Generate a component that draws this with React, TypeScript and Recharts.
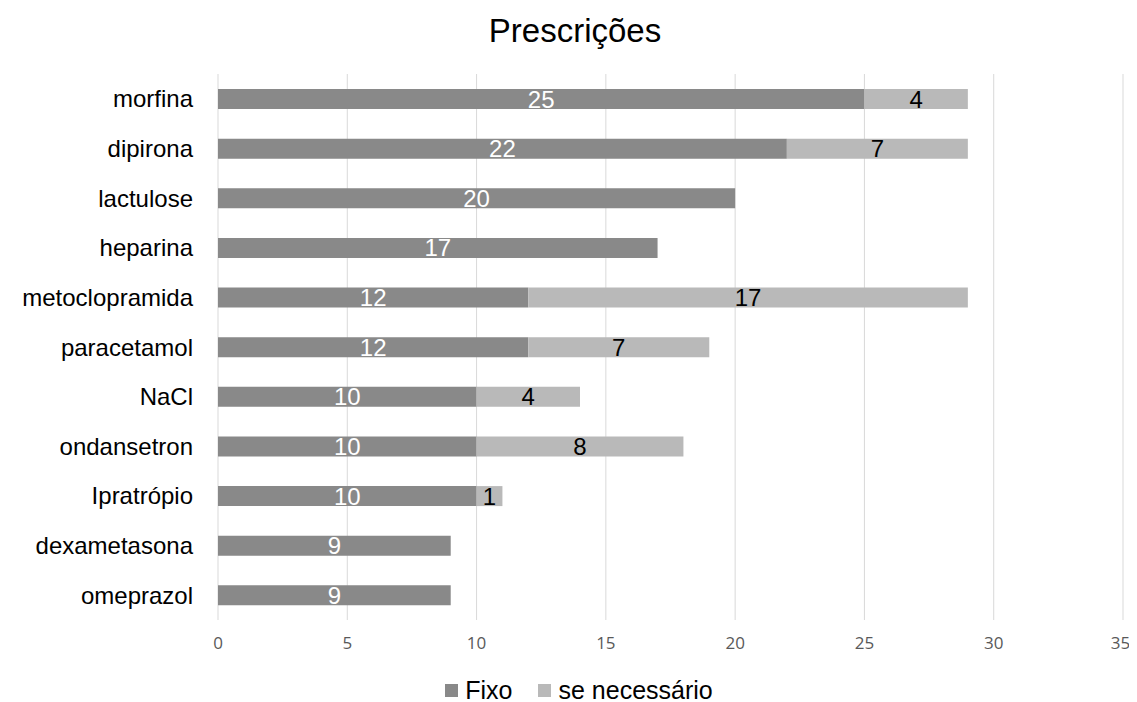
import React from 'react'
import { BarChart, Bar, XAxis, YAxis, CartesianGrid, Legend, LabelList } from 'recharts'

const medicamentos = [
  'morfina', 'dipirona', 'lactulose', 'heparina', 'metoclopramida', 'paracetamol',
  'NaCl', 'ondansetron', 'Ipratrópio ', 'dexametasona', 'omeprazol',
]
const fixo = [25, 22, 20, 17, 12, 12, 10, 10, 10, 9, 9]
const seNecessario: (number | null)[] = [4, 7, null, null, 17, 7, 4, 8, 1, null, null]
const xTicks = [0, 5, 10, 15, 20, 25, 30, 35]

const data = medicamentos.map((nome, i) => ({
  nome,
  fixo: fixo[i],
  se: seNecessario[i],
}))

const FONT = '"Liberation Sans", Arial, sans-serif'
const COR_FIXO = '#898989'
const COR_SE = '#b9b9b9'

const W = 1121
const H = 694

function Legenda() {
  const item = (cor: string, texto: string, gap: number) => (
    <div style={{ display: 'flex', alignItems: 'center', marginRight: gap }}>
      <span style={{ width: 13, height: 13, background: cor, marginRight: 7 }} />
      <span>{texto}</span>
    </div>
  )
  return (
    <div
      style={{
        width: 1142, display: 'flex', justifyContent: 'center',
        fontSize: 25, fontFamily: FONT, color: '#000', lineHeight: '28px',
      }}
    >
      {item(COR_FIXO, 'Fixo', 26)}
      {item(COR_SE, 'se necessário', 0)}
    </div>
  )
}

export default function App() {
  return (
    <div style={{ position: 'relative', width: W, height: H, fontFamily: FONT }}>
      <BarChart
        width={W}
        height={H}
        data={data}
        layout="vertical"
        margin={{ top: 66, right: 6, left: 0, bottom: 52 }}
        barSize={20}
      >
        <CartesianGrid horizontal={false} stroke="#d9d9d9" />
        <XAxis
          type="number"
          domain={[0, 35]}
          ticks={xTicks}
          axisLine={false}
          tickLine={false}
          tickMargin={11}
          tick={{ fontSize: 17, fill: '#595959', fontFamily: '"Open Sans", sans-serif' }}
        />
        <YAxis
          type="category"
          dataKey="nome"
          width={210}
          axisLine={false}
          tickLine={false}
          tickSize={0}
          tickMargin={25}
          tick={{ fontSize: 24, fill: '#000', fontFamily: FONT }}
        />
        <Legend
          verticalAlign="middle"
          content={() => <Legenda />}
          wrapperStyle={{ top: 668, left: 0, width: 1142 }}
        />
        <Bar dataKey="fixo" name="Fixo" stackId="a" fill={COR_FIXO} isAnimationActive={false}>
          <LabelList dataKey="fixo" position="center" fill="#fff" fontSize={24} />
        </Bar>
        <Bar dataKey="se" name="se necessário" stackId="a" fill={COR_SE} isAnimationActive={false}>
          <LabelList
            dataKey="se"
            position="center"
            fill="#000"
            fontSize={24}
            formatter={(v: any) => (v == null ? '' : v)}
          />
        </Bar>
      </BarChart>
      <svg
        width={W}
        height={60}
        style={{ position: 'absolute', top: 0, left: 0, pointerEvents: 'none' }}
      >
        <text x={567} y={34} textAnchor="middle" fontSize={33} fontFamily={FONT} fill="#000">
          Prescrições
        </text>
      </svg>
    </div>
  )
}
